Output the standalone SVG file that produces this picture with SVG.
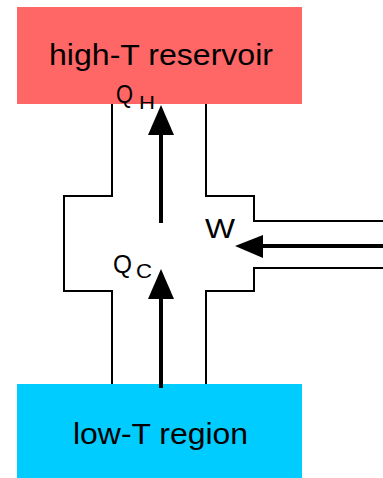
<svg xmlns="http://www.w3.org/2000/svg" width="383" height="478" viewBox="0 0 383 478">
<style>
.lbl{font-family:"Liberation Sans",Arial,sans-serif;fill:#000}
.wall{fill:none;stroke:#000;stroke-width:2}
.shaft{stroke:#000;stroke-width:4;fill:none}
.head{fill:#000}
</style>
<rect width="383" height="478" fill="#fff"/>
<g id="high">
<rect x="17" y="7" width="285" height="97" fill="#FF6666"/>
<text class="lbl" x="49" y="65" font-size="29" textLength="224" lengthAdjust="spacingAndGlyphs">high-T reservoir</text>
</g>
<g id="low">
<rect x="17" y="384" width="285" height="94" fill="#00CCFF"/>
<text class="lbl" x="73" y="444" font-size="29" textLength="175" lengthAdjust="spacingAndGlyphs">low-T region</text>
</g>
<g id="engine">
<path class="wall" d="M112,104 V196 H64 V291 H112 V384"/>
<path class="wall" d="M206,104 V196 H254 V221 H383"/>
<path class="wall" d="M383,268 H254 V291 H206 V384"/>
</g>
<g id="connectors">
<line class="shaft" x1="161" y1="223" x2="161" y2="132"/>
<polygon class="head" points="161,105 174,135 148,135"/>
<line class="shaft" x1="161" y1="388" x2="161" y2="296"/>
<polygon class="head" points="161,269 174,299 148,299"/>
<line class="shaft" x1="383" y1="246" x2="260" y2="246"/>
<polygon class="head" points="235,246 263,235 263,258"/>
</g>
<g id="labels">
<text class="lbl" x="116" y="103" font-size="25" textLength="17" lengthAdjust="spacingAndGlyphs">Q</text>
<text class="lbl" x="139" y="109" font-size="19" textLength="16" lengthAdjust="spacingAndGlyphs">H</text>
<text class="lbl" x="113" y="273" font-size="26" textLength="19" lengthAdjust="spacingAndGlyphs">Q</text>
<text class="lbl" x="136" y="278" font-size="20" textLength="16" lengthAdjust="spacingAndGlyphs">C</text>
<text class="lbl" x="205" y="238" font-size="27" textLength="30" lengthAdjust="spacingAndGlyphs">W</text>
</g>
</svg>
